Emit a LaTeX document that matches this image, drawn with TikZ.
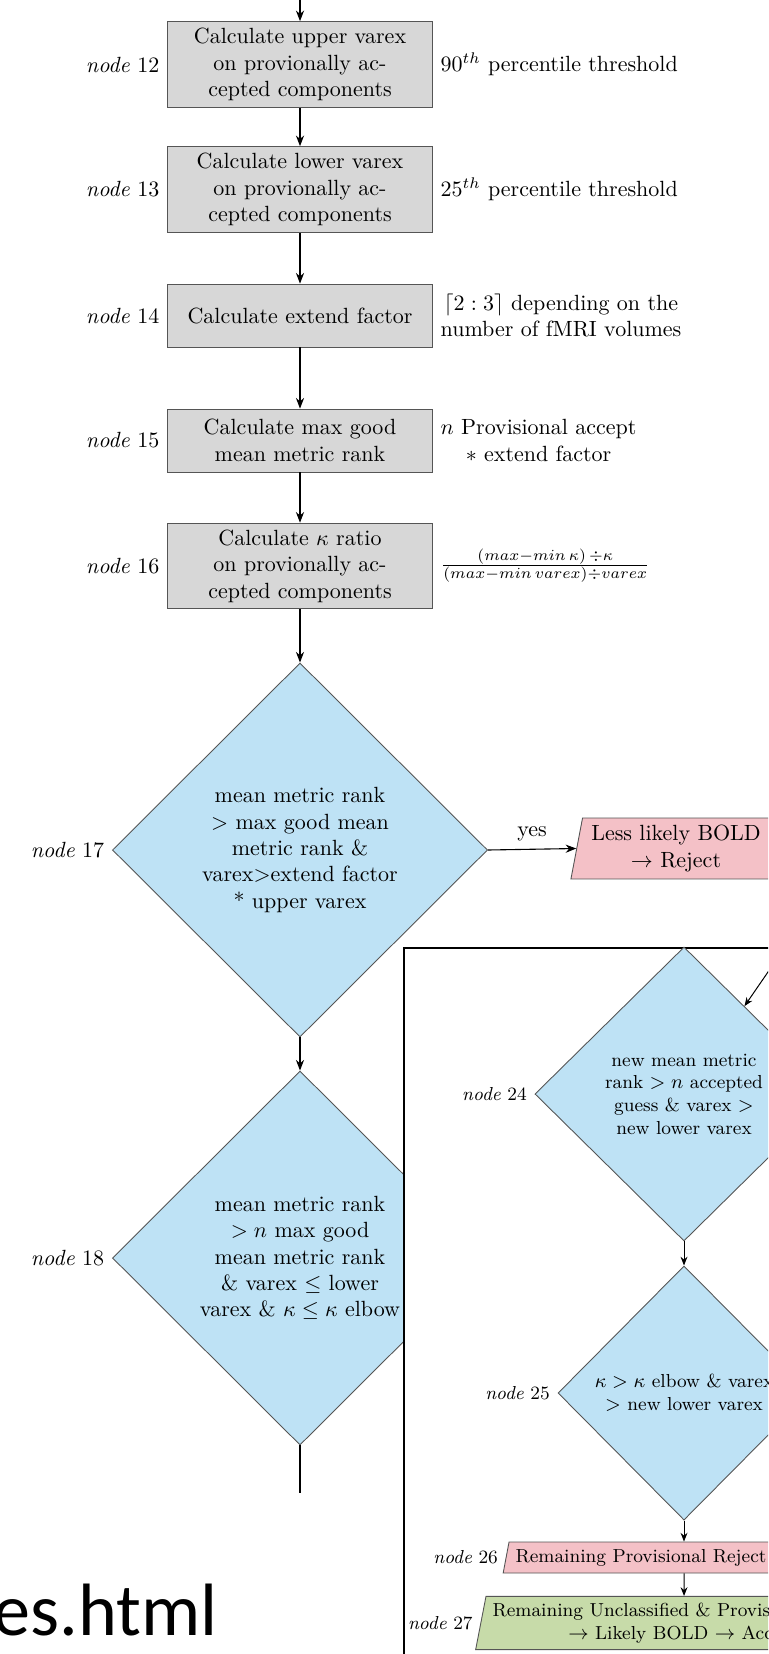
\documentclass[tikz,border=0pt]{standalone}
\usepackage{amsmath}
\usepackage{fontspec}
\newfontfamily\slidefont{Carlito}
\usetikzlibrary{arrows.meta,positioning,shapes.geometric}
\definecolor{stepgray}{HTML}{D7D7D7}
\definecolor{testblue}{HTML}{BEE2F5}
\definecolor{rejpink}{HTML}{F4C1C7}
\definecolor{accgreen}{HTML}{C7DBA9}
\definecolor{edgegray}{HTML}{555555}
\newcommand{\insetfont}{\fontsize{8.55}{10.3}\selectfont}
\tikzset{
  flow/.style={-{Stealth[length=1.7mm,width=1.3mm]},line width=0.5pt},
  smallflow/.style={-{Stealth[length=1.4mm,width=1.1mm]},line width=0.45pt},
  calcbox/.style={draw=edgegray,fill=stepgray,minimum width=120.4pt,minimum height=28.6pt,inner sep=3pt,align=center},
  testdiam/.style={diamond,draw=edgegray,fill=testblue,inner sep=0pt,align=center},
  outbox/.style={trapezium,trapezium left angle=79,trapezium right angle=101,trapezium stretches body,draw=edgegray,inner sep=3pt,align=center},
  nodelbl/.style={align=center},
  notelbl/.style={align=center}
}

\begin{document}
\begin{tikzpicture}[x=0.4545pt,y=-0.4545pt]
\useasboundingbox (0,0) rectangle (768,1654);
\clip (0,0) rectangle (768,1654);
\fill[white] (0,0) rectangle (768,1654);

% main column
\node[calcbox] (b12) at (300,64.5) {Calculate upper varex\\on provionally ac-\\cepted components};
\node[calcbox] (b13) at (300,189.5) {Calculate lower varex\\on provionally ac-\\cepted components};
\node[calcbox] (b14) at (300,315.5) {Calculate extend factor};
\node[calcbox] (b15) at (300,440.5) {Calculate max good\\mean metric rank};
\node[calcbox] (b16) at (300,566) {Calculate $\kappa$ ratio\\on provionally ac-\\cepted components};
\node[testdiam,minimum width=170.5pt,minimum height=170pt] (d17) at (300,850)
  {mean metric rank\\$>$ max good mean\\metric rank \&\\varex$>$extend factor\\* upper varex};
\node[testdiam,minimum width=170.5pt,minimum height=170pt] (d18) at (300,1258)
  {mean metric rank\\$>n$ max good\\mean metric rank\\\& varex $\leq$ lower\\varex \& $\kappa\leq\kappa$ elbow};
\node[outbox,fill=rejpink,minimum width=95.5pt,minimum height=27.7pt] (rej) at (676,848.5)
  {Less likely BOLD\\$\rightarrow$ Reject};

\foreach \n in {12,...,18}{
  \node[nodelbl,left=0pt of \ifnum\n<17 b\n\else d\n\fi] (l\n) {\textit{node} \n};
}
\node[notelbl,right=0pt of b12] (t12) {$90^{th}$ percentile threshold};
\node[notelbl,right=0pt of b13] (t13) {$25^{th}$ percentile threshold};
\node[notelbl,right=0pt of b14] (t14) {$\lceil 2:3\rceil$ depending on the\\number of fMRI volumes};
\node[notelbl,right=0pt of b15] (t15) {$n$ Provisional accept\\$*$ extend factor};
\node[notelbl,right=0pt of b16] (t16) {$\frac{(max-min\,\kappa)\,\div\kappa}{(max-min\,varex)\div varex}$};

\coordinate (top) at (300,-10);
\coordinate (end18) at (300,1493);
\draw[flow] (top) -- (b12);
\draw[flow] (b12) -- (b13);
\draw[flow] (b13) -- (b14);
\draw[flow] (b14) -- (b15);
\draw[flow] (b15) -- (b16);
\draw[flow] (b16) -- (d17);
\draw[flow] (d17) -- (d18);
\draw[flow] (d17.east) -- node[above] {yes} (rej.west);
\draw[line width=0.5pt] (d18.south) -- (end18);

% inset
\draw[line width=0.9pt,fill=white] (404,948) rectangle (800,1700);
\node[testdiam,font=\insetfont,minimum width=135.5pt,minimum height=133.6pt] (d24) at (684,1094)
  {new mean metric\\rank $>n$ accepted\\guess \& varex $>$\\new lower varex};
\node[testdiam,font=\insetfont,minimum width=114.5pt,minimum height=115.5pt] (d25) at (684,1393)
  {$\kappa>\kappa$ elbow \& varex\\$>$ new lower varex};
\node[outbox,font=\insetfont,fill=rejpink,minimum width=125pt,minimum height=14.1pt] (n26) at (641,1557.5)
  {Remaining Provisional Reject};
\node[outbox,font=\insetfont,fill=accgreen,minimum width=185pt,minimum height=23.6pt] (n27) at (684,1623)
  {Remaining Unclassified \& Provisional Accept\\$\rightarrow$ Likely BOLD $\rightarrow$ Accept};
\foreach \n in {24,25}{
  \node[nodelbl,font=\insetfont,left=0pt of d\n] (l\n) {\textit{node} \n};
}
\foreach \n in {26,27}{
  \node[nodelbl,font=\insetfont,left=0pt of n\n] (l\n) {\textit{node} \n};
}
\coordinate (from24) at (779,956);
\draw[smallflow] (from24) -- (d24);
\draw[smallflow] (d24) -- (d25);
\draw[smallflow] (d25.south) -- (d25.south |- n26.north);
\draw[smallflow] (d25.south |- n26.south) -- (n27);

% slide text
\node[anchor=base west,inner sep=0pt,font=\slidefont\fontsize{33.7}{40}\selectfont] (slideurl) at (-7,1635) {es.html};
\end{tikzpicture}
\end{document}
